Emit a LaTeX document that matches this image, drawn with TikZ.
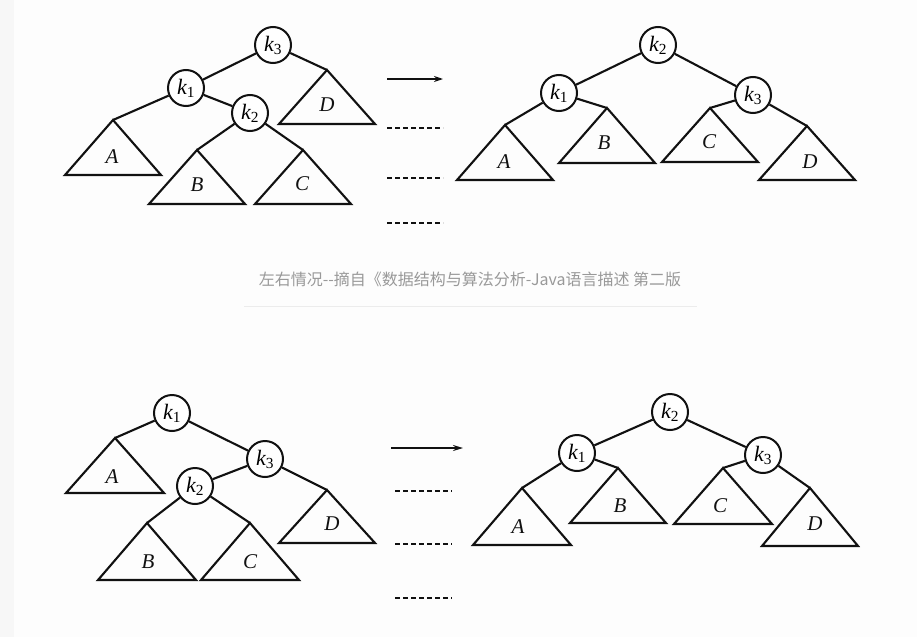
\documentclass[tikz,border=0pt]{standalone}
\usepackage{fontspec}
\setmainfont{Liberation Serif}
\newfontfamily\cjk{Noto Sans CJK SC}
\usepackage{xcolor}
\usepackage{tikz}
\usetikzlibrary{arrows.meta,positioning,calc}

\definecolor{pagebg}{HTML}{FDFDFD}
\definecolor{stripbg}{HTML}{F7F7F7}
\definecolor{capgray}{HTML}{999999}
\definecolor{rulegray}{HTML}{ECECEC}
\definecolor{ink}{HTML}{111111}

\newcommand{\keytext}[1]{k\textsubscript{\upshape #1}}

\tikzset{
  keynode/.style={circle,draw=ink,line width=2pt,minimum size=36pt,inner sep=0pt,
    fill=white,font=\fontsize{22}{22}\selectfont\itshape},
  edge/.style={draw=ink,line width=2.1pt},
  subtree/.style={draw=ink,line width=2.1pt,line join=miter},
  treelabel/.style={font=\fontsize{21}{21}\selectfont\itshape,text=ink},
  dots/.style={draw=ink,line width=2.2pt,dash pattern=on 5pt off 3pt},
  caption/.style={font=\cjk\fontsize{16}{16}\selectfont,text=capgray}
}

\begin{document}
\begin{tikzpicture}[x=1pt,y=-1pt]
  \fill[pagebg] (0,0) rectangle (917,637);
  \fill[stripbg] (0,0) rectangle (14,637);
  \useasboundingbox (0,0) rectangle (917,637);

  % upper left: before rotation
  \node[keynode] (ulk3) at (273,45) {\keytext{3}};
  \node[keynode] (ulk1) at (186,88) {\keytext{1}};
  \node[keynode] (ulk2) at (250,113) {\keytext{2}};
  \coordinate (ulA) at (113,120);
  \coordinate (ulB) at (197,150);
  \coordinate (ulC) at (303,150);
  \coordinate (ulD) at (327,70);
  \draw[subtree] (ulA) -- ++(-48,55) -- ++(96,0) -- cycle;
  \draw[subtree] (ulB) -- ++(-48,54) -- ++(96,0) -- cycle;
  \draw[subtree] (ulC) -- ++(-48,54) -- ++(96,0) -- cycle;
  \draw[subtree] (ulD) -- ++(-48,54) -- ++(96,0) -- cycle;
  \node[treelabel] (ulAl) at (112,157) {A};
  \node[treelabel] (ulBl) at (197,185) {B};
  \node[treelabel] (ulCl) at (302,184) {C};
  \node[treelabel] (ulDl) at (327,105) {D};
  \draw[edge] (ulk3) -- (ulk1);
  \draw[edge] (ulk3) -- (ulD);
  \draw[edge] (ulk1) -- (ulA);
  \draw[edge] (ulk1) -- (ulk2);
  \draw[edge] (ulk2) -- (ulB);
  \draw[edge] (ulk2) -- (ulC);

  % upper arrow and dots
  \coordinate (uarrS) at (387,79);
  \coordinate (uarrE) at (443,79);
  \draw[edge,line width=1.7pt,-{Stealth[length=9pt,width=6pt]}] (uarrS) -- (uarrE);
  \foreach \y in {128,178,223}
    \draw[dots] (387,\y) -- (443,\y);

  % upper right: after rotation
  \node[keynode] (urk2) at (658,45) {\keytext{2}};
  \node[keynode] (urk1) at (559,93) {\keytext{1}};
  \node[keynode] (urk3) at (753,95) {\keytext{3}};
  \coordinate (urA) at (505,125);
  \coordinate (urB) at (607,108);
  \coordinate (urC) at (710,108);
  \coordinate (urD) at (807,126);
  \draw[subtree] (urA) -- ++(-48,55) -- ++(96,0) -- cycle;
  \draw[subtree] (urB) -- ++(-48,55) -- ++(96,0) -- cycle;
  \draw[subtree] (urC) -- ++(-48,54) -- ++(96,0) -- cycle;
  \draw[subtree] (urD) -- ++(-48,54) -- ++(96,0) -- cycle;
  \node[treelabel] (urAl) at (504,162) {A};
  \node[treelabel] (urBl) at (604,143) {B};
  \node[treelabel] (urCl) at (709,142) {C};
  \node[treelabel] (urDl) at (810,162) {D};
  \draw[edge] (urk2) -- (urk1);
  \draw[edge] (urk2) -- (urk3);
  \draw[edge] (urk1) -- (urA);
  \draw[edge] (urk1) -- (urB);
  \draw[edge] (urk3) -- (urC);
  \draw[edge] (urk3) -- (urD);

  % caption
  \node[caption] (cap) at (470,279) {左右情况--摘自《数据结构与算法分析-Java语言描述 第二版};
  \draw[rulegray,line width=0.8pt] (244,306) -- (697,306);

  % lower left: before rotation
  \node[keynode] (llk1) at (172,413) {\keytext{1}};
  \node[keynode] (llk3) at (265,459) {\keytext{3}};
  \node[keynode] (llk2) at (195,486) {\keytext{2}};
  \coordinate (llA) at (115,438);
  \coordinate (llB) at (147,523);
  \coordinate (llC) at (250,523);
  \coordinate (llD) at (327,490);
  \draw[subtree] (llA) -- ++(-49,55) -- ++(98,0) -- cycle;
  \draw[subtree] (llB) -- ++(-49,57) -- ++(98,0) -- cycle;
  \draw[subtree] (llC) -- ++(-49,57) -- ++(98,0) -- cycle;
  \draw[subtree] (llD) -- ++(-48,53) -- ++(96,0) -- cycle;
  \node[treelabel] (llAl) at (112,477) {A};
  \node[treelabel] (llBl) at (148,562) {B};
  \node[treelabel] (llCl) at (250,562) {C};
  \node[treelabel] (llDl) at (332,524) {D};
  \draw[edge] (llk1) -- (llA);
  \draw[edge] (llk1) -- (llk3);
  \draw[edge] (llk3) -- (llk2);
  \draw[edge] (llk3) -- (llD);
  \draw[edge] (llk2) -- (llB);
  \draw[edge] (llk2) -- (llC);

  % lower arrow and dots
  \coordinate (larrS) at (391,448);
  \coordinate (larrE) at (463,448);
  \draw[edge,line width=1.7pt,-{Stealth[length=10pt,width=6pt]}] (larrS) -- (larrE);
  \foreach \y in {491,544,598}
    \draw[dots] (395,\y) -- (452,\y);

  % lower right: after rotation
  \node[keynode] (lrk2) at (670,412) {\keytext{2}};
  \node[keynode] (lrk1) at (577,453) {\keytext{1}};
  \node[keynode] (lrk3) at (763,455) {\keytext{3}};
  \coordinate (lrA) at (522,488);
  \coordinate (lrB) at (618,468);
  \coordinate (lrC) at (723,468);
  \coordinate (lrD) at (810,488);
  \draw[subtree] (lrA) -- ++(-49,57) -- ++(98,0) -- cycle;
  \draw[subtree] (lrB) -- ++(-48,55) -- ++(96,0) -- cycle;
  \draw[subtree] (lrC) -- ++(-49,56) -- ++(98,0) -- cycle;
  \draw[subtree] (lrD) -- ++(-48,58) -- ++(96,0) -- cycle;
  \node[treelabel] (lrAl) at (518,527) {A};
  \node[treelabel] (lrBl) at (620,506) {B};
  \node[treelabel] (lrCl) at (720,506) {C};
  \node[treelabel] (lrDl) at (815,524) {D};
  \draw[edge] (lrk2) -- (lrk1);
  \draw[edge] (lrk2) -- (lrk3);
  \draw[edge] (lrk1) -- (lrA);
  \draw[edge] (lrk1) -- (lrB);
  \draw[edge] (lrk3) -- (lrC);
  \draw[edge] (lrk3) -- (lrD);
\end{tikzpicture}
\end{document}
